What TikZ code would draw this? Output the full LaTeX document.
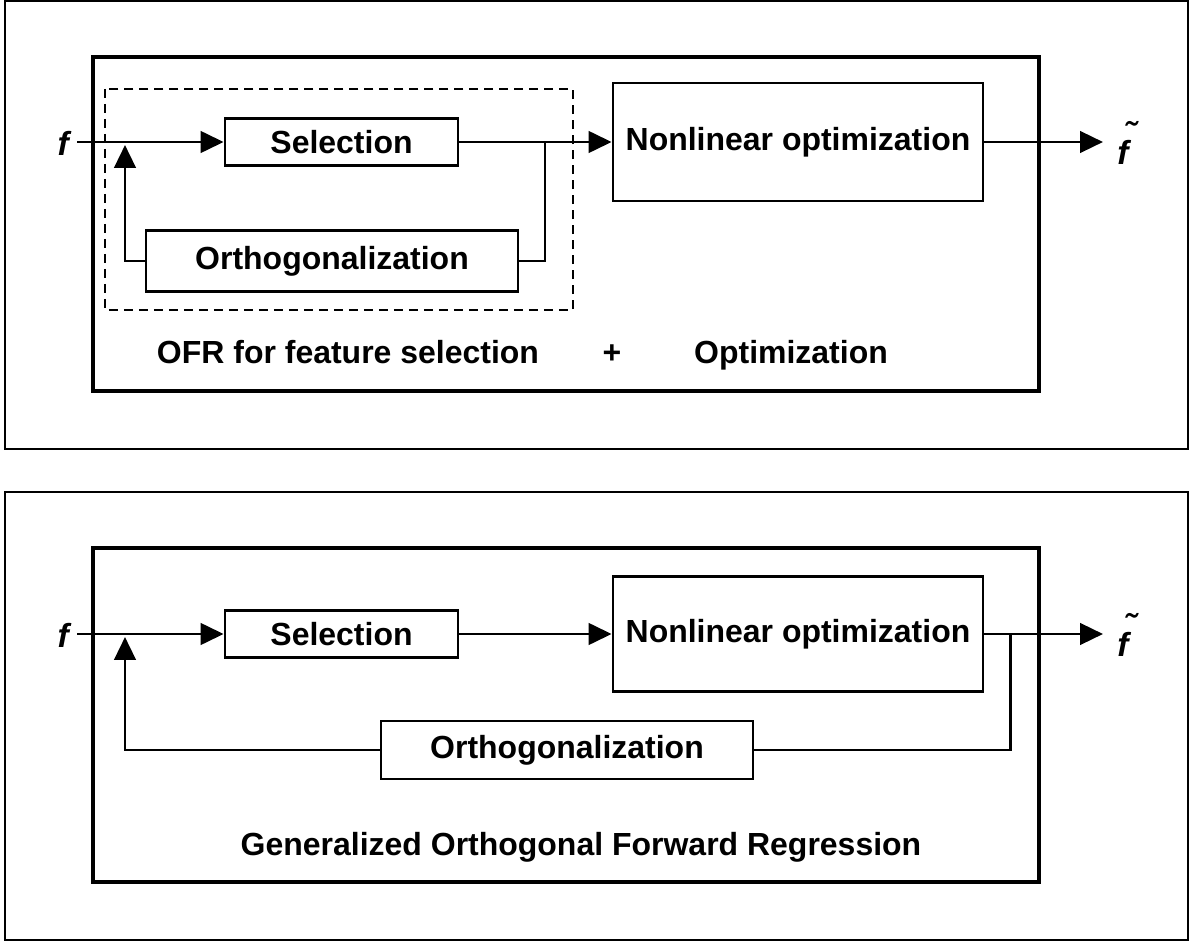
\documentclass[tikz,border=0pt]{standalone}
\usepackage{fontspec}
\setmainfont{Liberation Sans}
\usetikzlibrary{arrows.meta}

\tikzset{
  blk/.style={draw, line width=1.6pt, inner sep=0pt, font=\fontsize{18.2}{21}\selectfont\bfseries},
  lbl/.style={inner sep=0pt, anchor=base, font=\fontsize{18.2}{21}\selectfont\bfseries},
  sig/.style={inner sep=0pt, font=\fontsize{19}{22}\selectfont\bfseries\itshape},
  wire/.style={line width=1.7pt},
  arr/.style={wire, -{Triangle[length=0.46cm,width=0.43cm]}},
  frame/.style={line width=0.8pt},
  outer/.style={line width=2.8pt},
  group/.style={line width=1.5pt, dash pattern=on 0.18cm off 0.12cm}
}
\newcommand{\ftilde}{\makebox[0pt][l]{\hspace{0.2em}\raisebox{0.55em}{\char"02DC}}f}

\begin{document}
\begin{tikzpicture}[x=0.02cm, y=-0.02cm]
\useasboundingbox (0,0) rectangle (1194,942);

% Top panel: OFR + optimization
\draw[frame] (5,1) rectangle (1188,449);
\draw[outer] (93,57) rectangle (1039,391);
\draw[group] (105,89) rectangle (573,310);

\node[blk, minimum width=233*0.02cm, minimum height=47*0.02cm] (sel1) at (341.5,142) {Selection};
\node[blk, minimum width=372*0.02cm, minimum height=61*0.02cm] (orth1) at (332,261) {Orthogonalization};
\node[blk, minimum width=370*0.02cm, minimum height=118*0.02cm] (nlo1) at (798,142) {Nonlinear optimization};

\node[sig, anchor=east] (in1) at (69,143) {f};
\node[sig, anchor=west] (out1) at (1117,143) {\ftilde};
\coordinate (src1) at (77,142);
\coordinate (dst1) at (1103,142);
\coordinate (fb1) at (125,145);
\coordinate (br1) at (545,142);

\draw[arr] (src1) -- (sel1.west);
\draw[arr] (sel1.east) -- (nlo1.west);
\draw[arr] (nlo1.east) -- (dst1);
\draw[wire] (br1) |- (orth1.east);
\draw[arr] (orth1.west) -| (fb1);

\node[lbl] (ofr) at (348,364) {OFR for feature selection};
\node[lbl] (plus) at (612,364) {+};
\node[lbl] (opt) at (791,364) {Optimization};

% Bottom panel: generalized OFR
\draw[frame] (5,492) rectangle (1188,940);
\draw[outer] (93,548) rectangle (1039,882);

\node[blk, minimum width=233*0.02cm, minimum height=47*0.02cm] (sel2) at (341.5,634) {Selection};
\node[blk, minimum width=370*0.02cm, minimum height=115*0.02cm] (nlo2) at (798,634) {Nonlinear optimization};
\node[blk, minimum width=372*0.02cm, minimum height=58*0.02cm] (orth2) at (567,750) {Orthogonalization};

\node[sig, anchor=east] (in2) at (69,635) {f};
\node[sig, anchor=west] (out2) at (1117,635) {\ftilde};
\coordinate (src2) at (77,634);
\coordinate (dst2) at (1103,634);
\coordinate (fb2) at (125,637);
\coordinate (br2) at (1010,634);

\draw[arr] (src2) -- (sel2.west);
\draw[arr] (sel2.east) -- (nlo2.west);
\draw[arr] (nlo2.east) -- (dst2);
\draw[wire] (br2) |- (orth2.east);
\draw[arr] (orth2.west) -| (fb2);

\node[lbl] (gofr) at (581,855) {Generalized Orthogonal Forward Regression};
\end{tikzpicture}
\end{document}
